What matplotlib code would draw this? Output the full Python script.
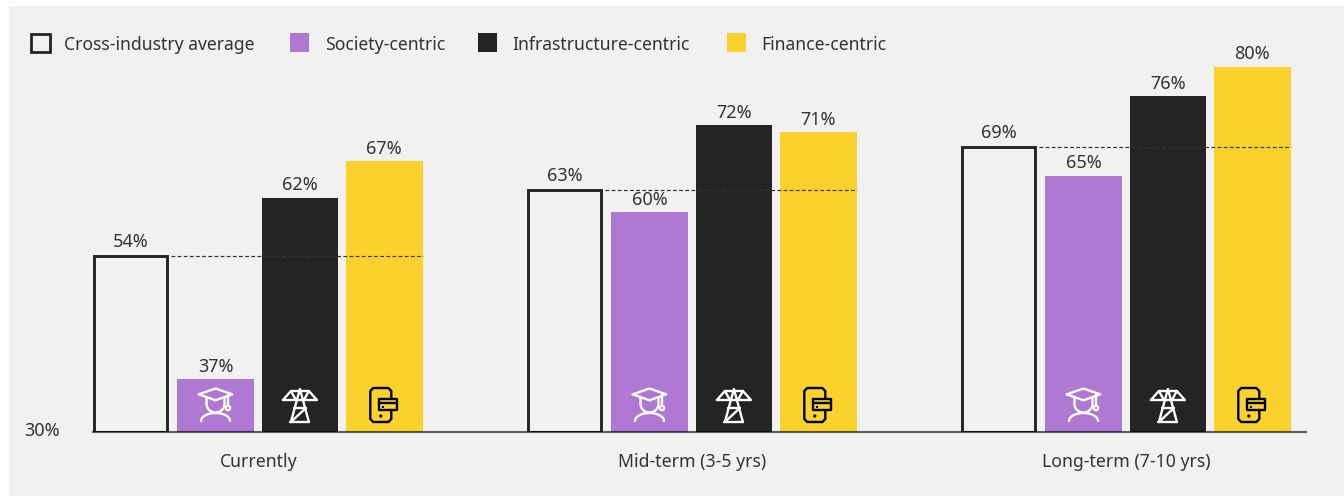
import numpy as np
import matplotlib
matplotlib.use("Agg")
import matplotlib.pyplot as plt
from matplotlib.patches import Rectangle, Circle, PathPatch
from matplotlib.path import Path
from matplotlib.transforms import Affine2D

periods = ["Currently", "Mid-term (3-5 yrs)", "Long-term (7-10 yrs)"]
series_names = ["Cross-industry average", "Society-centric", "Infrastructure-centric", "Finance-centric"]
cross_industry = [54, 63, 69]
society = [37, 60, 65]
infrastructure = [62, 72, 76]
finance = [67, 71, 80]
baseline_label = "30%"

PANEL = "#f1f1f1"
INK = "#333333"
DARK = "#242424"
PURPLE = "#af78d2"
YELLOW = "#fad22d"

plt.rcParams["font.family"] = ["Noto Sans", "DejaVu Sans"]

fig = plt.figure(figsize=(13.44, 4.96), dpi=100, facecolor="white")
W, H = 1344, 496


def fx(px):
    return px / W


def fy(py):
    return 1 - py / H


# grey card behind everything
fig.add_artist(Rectangle((fx(9), 0), 1 - fx(9), fy(6), transform=fig.transFigure,
                         facecolor=PANEL, edgecolor="none", zorder=-5))

ax = fig.add_axes([fx(93), fy(432), fx(1306 - 93), (432 - 10) / H])
ax.patch.set_alpha(0)
group_step = 434.0
centre = 257.7
floor = 29.7
ax.set_xlim((93 - centre) / group_step, (1306 - centre) / group_step)
ax.set_ylim(floor, floor + 422 / 7.26)
for name, spine in ax.spines.items():
    spine.set_visible(name == "bottom")
ax.spines["bottom"].set_color((0, 0, 0, 0.62))
ax.spines["bottom"].set_linewidth(1.5)
ax.spines["bottom"].set_zorder(6)
ax.set_yticks([])
ax.set_xticks([])

x = np.arange(len(periods))
width = 76.5 / group_step
offsets = np.array([-1.5, -0.5, 0.5, 1.5]) * 84.4 / group_step
colors = [PANEL, PURPLE, DARK, YELLOW]
values = [cross_industry, society, infrastructure, finance]

for k, (vals, col) in enumerate(zip(values, colors)):
    if k == 0:
        ax.bar(x + offsets[k] - 0.5 / group_step, np.array(vals) - floor, 72.5 / group_step, bottom=floor,
               facecolor="none", edgecolor=DARK, linewidth=2.1, zorder=4)
    else:
        ax.bar(x + offsets[k], np.array(vals) - floor, width, bottom=floor, color=col, zorder=3)
    for xi, v in zip(x + offsets[k], vals):
        ax.annotate(f"{v}%", (xi, v), xytext=(0, 3.6 if k == 0 else 2.4), textcoords="offset points",
                    ha="center", va="bottom", fontsize=13, color=INK)

# dashed reference from the average bar across the group
for xi, v in zip(x, cross_industry):
    ax.plot([xi + offsets[0] + width / 2 + 2 / group_step, xi + offsets[3] + width / 2], [v, v],
            color=INK, lw=0.85, dashes=(3.2, 2), zorder=5)

fig.canvas.draw()


def icon_tf(xi):
    # icon units are pixels measured from the bar centre at the floor of the axes
    px, py = ax.transData.transform((xi, floor))
    return Affine2D().translate(px, py)


def stroke(verts, tf, col, closed=False):
    verts = list(verts)
    if closed:
        verts.append(verts[0])
    codes = [Path.MOVETO] + [Path.LINETO] * (len(verts) - 1)
    ax.add_patch(PathPatch(Path(verts, codes), fill=False, edgecolor=col, lw=1.7, transform=tf,
                           clip_on=False, zorder=7, capstyle="round", joinstyle="round"))


def draw_cap(xi):
    tf = icon_tf(xi)
    c = "white"
    stroke([(-16.7, 37.7), (0, 43.5), (16.7, 37.7), (0, 31.7)], tf, c, closed=True)
    t = np.linspace(np.pi, 2 * np.pi, 20)
    head = [(-9, 34)] + [(9 * np.cos(a), 28 + 8.5 * np.sin(a)) for a in t] + [(9, 34)]
    stroke(head, tf, c)
    t = np.linspace(np.pi, 0, 24)
    stroke([(14.5 * np.cos(a), 11 + 8 * np.sin(a)) for a in t], tf, c)
    stroke([(12.5, 37), (12.5, 27)], tf, c)
    ax.add_patch(Circle((12.5, 24), 2.2, fill=False, edgecolor=c, lw=1.6, transform=tf,
                        clip_on=False, zorder=7))


def draw_tower(xi):
    tf = icon_tf(xi)
    c = "white"
    stroke([(-9, 10), (0, 43), (9, 10)], tf, c)
    stroke([(-9.5, 10), (9.5, 10)], tf, c)
    stroke([(-17, 32), (17, 32), (9, 41), (-9, 41)], tf, c, closed=True)
    stroke([(-9, 41), (-4, 32)], tf, c)
    stroke([(9, 41), (4, 32)], tf, c)
    stroke([(-6, 24), (6, 24)], tf, c)
    stroke([(-9, 10), (6, 24)], tf, c)


def draw_phone(xi):
    tf = icon_tf(xi)
    c = "black"
    stroke([(4, 10), (-11, 10), (-14, 13), (-14, 41), (-11, 44), (4, 44), (7, 41), (7, 34)], tf, c)
    stroke([(-5, 33), (13, 33), (13, 22), (-5, 22)], tf, c, closed=True)
    stroke([(-5, 29), (13, 29)], tf, c)
    stroke([(7, 22), (7, 13), (4, 10)], tf, c)
    ax.add_patch(Rectangle((-2.5, 24), 2.5, 2.5, facecolor=c, transform=tf, clip_on=False, zorder=7))
    ax.add_patch(Circle((-3.5, 16), 1.6, facecolor=c, transform=tf, clip_on=False, zorder=7))


for xi in x:
    draw_cap(xi + offsets[1])
    draw_tower(xi + offsets[2])
    draw_phone(xi + offsets[3])

# group labels and the axis floor
for xi, name in zip(x, periods):
    ax.annotate(name, (xi, floor), xytext=(0.5, -30), textcoords="offset pixels",
                ha="center", va="center", fontsize=12.7, color=INK)
fig.text(fx(42), fy(431.5), baseline_label, ha="center", va="center", fontsize=13, color=INK)

# legend row
swatch_x = [31, 290, 478, 727]
label_x = [64, 325, 512, 761]
for k, (sx, col, name, lx) in enumerate(zip(swatch_x, colors, series_names, label_x)):
    if k == 0:
        fig.add_artist(Rectangle((fx(sx), fy(51.5)), 18.5 / W, 18 / H, transform=fig.transFigure,
                                 facecolor="none", edgecolor=DARK, linewidth=2.0))
    else:
        fig.add_artist(Rectangle((fx(sx), fy(52)), 19 / W, 19 / H, transform=fig.transFigure,
                                 facecolor=col, edgecolor="none"))
    fig.text(fx(lx), fy(44.5), name, ha="left", va="center", fontsize=12.65, color=INK)

fig.savefig("out.png", dpi=100)
